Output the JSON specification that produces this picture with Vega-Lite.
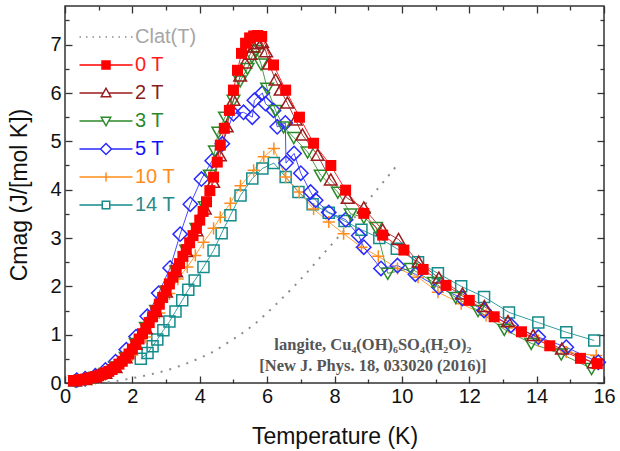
{
 "$schema": "https://vega.github.io/schema/vega-lite/v6.json",
 "width": 539, "height": 377,
 "autosize": {"type": "none"},
 "padding": {"left": 65, "top": 6, "right": 16, "bottom": 68},
 "background": "white",
 "config": {
  "view": {"stroke": "#333333", "strokeWidth": 1.5},
  "axis": {"domain": false, "grid": false, "labelFlush": false, "labelOverlap": false, "tickColor": "#333333", "tickWidth": 1.3, "labelFont": "Liberation Sans", "labelFontSize": 20, "labelColor": "#111111", "titleFont": "Liberation Sans", "titleFontSize": 23, "titleFontWeight": "normal", "titleColor": "#111111", "labelPadding": 9}
 },
 "datasets": {"d": [
  {"s":"Clat(T)","T":1.0,"C":0.0},{"s":"Clat(T)","T":1.34,"C":0.02},{"s":"Clat(T)","T":1.85,"C":0.08},{"s":"Clat(T)","T":2.3,"C":0.14},{"s":"Clat(T)","T":2.74,"C":0.21},{"s":"Clat(T)","T":3.2,"C":0.3},{"s":"Clat(T)","T":3.63,"C":0.41},{"s":"Clat(T)","T":4.02,"C":0.52},{"s":"Clat(T)","T":4.41,"C":0.65},{"s":"Clat(T)","T":4.8,"C":0.82},{"s":"Clat(T)","T":5.2,"C":1.0},{"s":"Clat(T)","T":5.6,"C":1.2},{"s":"Clat(T)","T":6.0,"C":1.45},{"s":"Clat(T)","T":6.4,"C":1.72},{"s":"Clat(T)","T":6.8,"C":2.0},{"s":"Clat(T)","T":7.2,"C":2.3},{"s":"Clat(T)","T":7.6,"C":2.62},{"s":"Clat(T)","T":8.0,"C":2.93},{"s":"Clat(T)","T":8.4,"C":3.25},{"s":"Clat(T)","T":8.8,"C":3.6},{"s":"Clat(T)","T":9.2,"C":3.95},{"s":"Clat(T)","T":9.5,"C":4.2},{"s":"Clat(T)","T":9.85,"C":4.5},

  {"s":"14 T","T":2.25,"C":0.5},{"s":"14 T","T":2.45,"C":0.62},{"s":"14 T","T":2.6,"C":0.76},{"s":"14 T","T":2.74,"C":0.9},{"s":"14 T","T":2.92,"C":1.09},{"s":"14 T","T":3.1,"C":1.27},{"s":"14 T","T":3.28,"C":1.48},{"s":"14 T","T":3.48,"C":1.71},{"s":"14 T","T":3.66,"C":1.93},{"s":"14 T","T":3.85,"C":2.12},{"s":"14 T","T":4.11,"C":2.4},{"s":"14 T","T":4.41,"C":2.74},{"s":"14 T","T":4.65,"C":3.1},{"s":"14 T","T":4.91,"C":3.47},{"s":"14 T","T":5.21,"C":3.88},{"s":"14 T","T":5.56,"C":4.23},{"s":"14 T","T":5.86,"C":4.44},{"s":"14 T","T":6.2,"C":4.55},{"s":"14 T","T":6.55,"C":4.26},{"s":"14 T","T":6.93,"C":3.95},{"s":"14 T","T":7.35,"C":3.7},{"s":"14 T","T":7.83,"C":3.52},{"s":"14 T","T":8.3,"C":3.35},{"s":"14 T","T":8.8,"C":3.17},{"s":"14 T","T":9.33,"C":3.0},{"s":"14 T","T":9.85,"C":2.78},{"s":"14 T","T":10.48,"C":2.5},{"s":"14 T","T":11.07,"C":2.27},{"s":"14 T","T":11.76,"C":2.0},{"s":"14 T","T":12.44,"C":1.78},{"s":"14 T","T":13.18,"C":1.46},{"s":"14 T","T":14.05,"C":1.25},{"s":"14 T","T":14.88,"C":1.05},{"s":"14 T","T":15.71,"C":0.88},

  {"s":"10 T","T":0.4,"C":0.04},{"s":"10 T","T":0.8,"C":0.08},{"s":"10 T","T":1.2,"C":0.18},{"s":"10 T","T":1.6,"C":0.35},{"s":"10 T","T":2.0,"C":0.58},{"s":"10 T","T":2.4,"C":0.95},{"s":"10 T","T":2.8,"C":1.45},{"s":"10 T","T":3.1,"C":1.85},{"s":"10 T","T":3.35,"C":2.15},{"s":"10 T","T":3.63,"C":2.4},{"s":"10 T","T":3.87,"C":2.64},{"s":"10 T","T":4.11,"C":2.91},{"s":"10 T","T":4.41,"C":3.2},{"s":"10 T","T":4.61,"C":3.43},{"s":"10 T","T":4.91,"C":3.72},{"s":"10 T","T":5.21,"C":4.08},{"s":"10 T","T":5.6,"C":4.4},{"s":"10 T","T":5.9,"C":4.68},{"s":"10 T","T":6.2,"C":4.85},{"s":"10 T","T":6.55,"C":4.26},{"s":"10 T","T":6.95,"C":3.95},{"s":"10 T","T":7.38,"C":3.6},{"s":"10 T","T":7.83,"C":3.33},{"s":"10 T","T":8.27,"C":3.09},{"s":"10 T","T":8.8,"C":2.81},{"s":"10 T","T":9.3,"C":2.62},{"s":"10 T","T":9.87,"C":2.37},{"s":"10 T","T":10.48,"C":2.19},{"s":"10 T","T":11.07,"C":1.88},{"s":"10 T","T":11.76,"C":1.64},{"s":"10 T","T":12.5,"C":1.4},{"s":"10 T","T":13.18,"C":1.15},{"s":"10 T","T":14.05,"C":0.88},{"s":"10 T","T":14.88,"C":0.64},{"s":"10 T","T":15.77,"C":0.57},

  {"s":"5 T","T":0.35,"C":0.06},{"s":"5 T","T":0.6,"C":0.09},{"s":"5 T","T":0.9,"C":0.15},{"s":"5 T","T":1.2,"C":0.27},{"s":"5 T","T":1.5,"C":0.44},{"s":"5 T","T":1.82,"C":0.69},{"s":"5 T","T":2.11,"C":0.96},{"s":"5 T","T":2.44,"C":1.38},{"s":"5 T","T":2.78,"C":1.86},{"s":"5 T","T":3.12,"C":2.38},{"s":"5 T","T":3.42,"C":3.08},{"s":"5 T","T":3.72,"C":3.7},{"s":"5 T","T":4.05,"C":4.22},{"s":"5 T","T":4.37,"C":4.6},{"s":"5 T","T":4.67,"C":4.95},{"s":"5 T","T":5.0,"C":5.57},{"s":"5 T","T":5.3,"C":5.6},{"s":"5 T","T":5.56,"C":5.5},{"s":"5 T","T":5.62,"C":5.85},{"s":"5 T","T":5.86,"C":6.0},{"s":"5 T","T":5.95,"C":5.78},{"s":"5 T","T":6.19,"C":5.64},{"s":"5 T","T":6.3,"C":5.3},{"s":"5 T","T":6.54,"C":5.38},{"s":"5 T","T":6.56,"C":4.55},{"s":"5 T","T":6.8,"C":4.75},{"s":"5 T","T":7.0,"C":4.34},{"s":"5 T","T":7.29,"C":3.95},{"s":"5 T","T":7.44,"C":3.78},{"s":"5 T","T":7.83,"C":3.53},{"s":"5 T","T":8.33,"C":3.38},{"s":"5 T","T":8.72,"C":3.05},{"s":"5 T","T":8.87,"C":2.81},{"s":"5 T","T":9.38,"C":2.37},{"s":"5 T","T":9.87,"C":2.43},{"s":"5 T","T":10.4,"C":2.25},{"s":"5 T","T":11.1,"C":1.98},{"s":"5 T","T":11.8,"C":1.75},{"s":"5 T","T":12.44,"C":1.5},{"s":"5 T","T":13.24,"C":1.19},{"s":"5 T","T":14.05,"C":0.95},{"s":"5 T","T":14.88,"C":0.74},{"s":"5 T","T":15.83,"C":0.43},

  {"s":"3 T","T":0.3,"C":0.04},{"s":"3 T","T":0.6,"C":0.07},{"s":"3 T","T":0.9,"C":0.12},{"s":"3 T","T":1.2,"C":0.2},{"s":"3 T","T":1.5,"C":0.33},{"s":"3 T","T":1.8,"C":0.53},{"s":"3 T","T":2.1,"C":0.82},{"s":"3 T","T":2.4,"C":1.15},{"s":"3 T","T":2.7,"C":1.5},{"s":"3 T","T":3.0,"C":1.9},{"s":"3 T","T":3.3,"C":2.32},{"s":"3 T","T":3.6,"C":2.75},{"s":"3 T","T":3.9,"C":3.2},{"s":"3 T","T":4.15,"C":3.65},{"s":"3 T","T":4.3,"C":4.3},{"s":"3 T","T":4.45,"C":4.8},{"s":"3 T","T":4.55,"C":5.19},{"s":"3 T","T":4.75,"C":5.5},{"s":"3 T","T":5.0,"C":5.85},{"s":"3 T","T":5.2,"C":6.25},{"s":"3 T","T":5.42,"C":6.51},{"s":"3 T","T":5.55,"C":6.75},{"s":"3 T","T":5.68,"C":6.88},{"s":"3 T","T":5.82,"C":6.6},{"s":"3 T","T":6.0,"C":6.1},{"s":"3 T","T":6.25,"C":5.64},{"s":"3 T","T":6.49,"C":5.3},{"s":"3 T","T":6.79,"C":5.08},{"s":"3 T","T":7.2,"C":4.78},{"s":"3 T","T":7.59,"C":4.3},{"s":"3 T","T":8.1,"C":3.95},{"s":"3 T","T":8.48,"C":3.5},{"s":"3 T","T":8.87,"C":3.43},{"s":"3 T","T":9.23,"C":3.22},{"s":"3 T","T":9.58,"C":2.27},{"s":"3 T","T":10.27,"C":2.37},{"s":"3 T","T":10.95,"C":2.08},{"s":"3 T","T":11.6,"C":1.77},{"s":"3 T","T":12.26,"C":1.5},{"s":"3 T","T":13.04,"C":1.11},{"s":"3 T","T":13.84,"C":0.82},{"s":"3 T","T":14.73,"C":0.6},{"s":"3 T","T":15.63,"C":0.3},

  {"s":"2 T","T":0.3,"C":0.04},{"s":"2 T","T":0.6,"C":0.07},{"s":"2 T","T":0.9,"C":0.12},{"s":"2 T","T":1.2,"C":0.2},{"s":"2 T","T":1.5,"C":0.32},{"s":"2 T","T":1.8,"C":0.52},{"s":"2 T","T":2.1,"C":0.8},{"s":"2 T","T":2.4,"C":1.12},{"s":"2 T","T":2.7,"C":1.48},{"s":"2 T","T":3.0,"C":1.88},{"s":"2 T","T":3.3,"C":2.3},{"s":"2 T","T":3.6,"C":2.72},{"s":"2 T","T":3.9,"C":3.15},{"s":"2 T","T":4.15,"C":3.6},{"s":"2 T","T":4.4,"C":4.15},{"s":"2 T","T":4.6,"C":4.7},{"s":"2 T","T":4.8,"C":5.3},{"s":"2 T","T":5.0,"C":5.85},{"s":"2 T","T":5.2,"C":6.35},{"s":"2 T","T":5.35,"C":6.62},{"s":"2 T","T":5.5,"C":6.8},{"s":"2 T","T":5.6,"C":6.95},{"s":"2 T","T":5.72,"C":7.02},{"s":"2 T","T":5.85,"C":7.05},{"s":"2 T","T":5.97,"C":6.85},{"s":"2 T","T":6.06,"C":6.6},{"s":"2 T","T":6.25,"C":6.27},{"s":"2 T","T":6.4,"C":6.06},{"s":"2 T","T":6.6,"C":5.79},{"s":"2 T","T":6.85,"C":5.44},{"s":"2 T","T":7.05,"C":5.13},{"s":"2 T","T":7.5,"C":4.71},{"s":"2 T","T":7.89,"C":4.2},{"s":"2 T","T":8.39,"C":3.82},{"s":"2 T","T":8.87,"C":3.62},{"s":"2 T","T":9.43,"C":3.16},{"s":"2 T","T":9.9,"C":2.97},{"s":"2 T","T":10.5,"C":2.5},{"s":"2 T","T":11.1,"C":2.17},{"s":"2 T","T":11.8,"C":1.84},{"s":"2 T","T":12.45,"C":1.58},{"s":"2 T","T":13.15,"C":1.27},{"s":"2 T","T":13.9,"C":0.98},{"s":"2 T","T":14.75,"C":0.7},{"s":"2 T","T":15.7,"C":0.42},

  {"s":"0 T","T":0.25,"C":0.05},{"s":"0 T","T":0.3,"C":0.05},{"s":"0 T","T":0.4,"C":0.06},{"s":"0 T","T":0.5,"C":0.07},{"s":"0 T","T":0.6,"C":0.08},{"s":"0 T","T":0.7,"C":0.1},{"s":"0 T","T":0.8,"C":0.11},{"s":"0 T","T":0.9,"C":0.13},{"s":"0 T","T":1.0,"C":0.15},{"s":"0 T","T":1.1,"C":0.18},{"s":"0 T","T":1.2,"C":0.21},{"s":"0 T","T":1.3,"C":0.24},{"s":"0 T","T":1.4,"C":0.28},{"s":"0 T","T":1.5,"C":0.33},{"s":"0 T","T":1.6,"C":0.39},{"s":"0 T","T":1.7,"C":0.45},{"s":"0 T","T":1.8,"C":0.52},{"s":"0 T","T":1.9,"C":0.6},{"s":"0 T","T":2.0,"C":0.7},{"s":"0 T","T":2.1,"C":0.8},{"s":"0 T","T":2.2,"C":0.91},{"s":"0 T","T":2.3,"C":1.02},{"s":"0 T","T":2.4,"C":1.13},{"s":"0 T","T":2.5,"C":1.25},{"s":"0 T","T":2.6,"C":1.37},{"s":"0 T","T":2.7,"C":1.5},{"s":"0 T","T":2.8,"C":1.63},{"s":"0 T","T":2.9,"C":1.77},{"s":"0 T","T":3.0,"C":1.91},{"s":"0 T","T":3.1,"C":2.05},{"s":"0 T","T":3.2,"C":2.19},{"s":"0 T","T":3.3,"C":2.33},{"s":"0 T","T":3.4,"C":2.47},{"s":"0 T","T":3.5,"C":2.62},{"s":"0 T","T":3.6,"C":2.76},{"s":"0 T","T":3.7,"C":2.9},{"s":"0 T","T":3.8,"C":3.05},{"s":"0 T","T":3.9,"C":3.2},{"s":"0 T","T":4.0,"C":3.37},{"s":"0 T","T":4.1,"C":3.55},{"s":"0 T","T":4.2,"C":3.75},{"s":"0 T","T":4.3,"C":3.98},{"s":"0 T","T":4.41,"C":4.26},{"s":"0 T","T":4.52,"C":4.57},{"s":"0 T","T":4.61,"C":4.92},{"s":"0 T","T":4.73,"C":5.27},{"s":"0 T","T":4.88,"C":5.64},{"s":"0 T","T":5.0,"C":6.06},{"s":"0 T","T":5.12,"C":6.47},{"s":"0 T","T":5.24,"C":6.82},{"s":"0 T","T":5.36,"C":7.03},{"s":"0 T","T":5.48,"C":7.14},{"s":"0 T","T":5.6,"C":7.18},{"s":"0 T","T":5.72,"C":7.19},{"s":"0 T","T":5.84,"C":7.17},{"s":"0 T","T":6.19,"C":6.58},{"s":"0 T","T":6.55,"C":6.06},{"s":"0 T","T":6.96,"C":5.5},{"s":"0 T","T":7.38,"C":4.96},{"s":"0 T","T":7.89,"C":4.5},{"s":"0 T","T":8.33,"C":3.99},{"s":"0 T","T":8.87,"C":3.51},{"s":"0 T","T":9.43,"C":3.06},{"s":"0 T","T":10.06,"C":2.75},{"s":"0 T","T":10.63,"C":2.35},{"s":"0 T","T":11.31,"C":2.02},{"s":"0 T","T":12.0,"C":1.71},{"s":"0 T","T":12.74,"C":1.37},{"s":"0 T","T":13.55,"C":1.06},{"s":"0 T","T":14.39,"C":0.77},{"s":"0 T","T":15.3,"C":0.51},{"s":"0 T","T":15.8,"C":0.4}
 ]},
 "data": {"name": "d"},
 "layer": [
  {
   "transform": [{"filter": "datum.s === 'Clat(T)'"}],
   "mark": {"type": "line", "strokeDash": [2, 7], "strokeWidth": 2, "color": "#8c8c8c"},
   "encoding": {
    "x": {"field": "T", "type": "quantitative", "scale": {"domain": [0, 16], "nice": false, "zero": false},
      "axis": {"orient": "bottom", "title": "Temperature (K)", "values": [0,1,2,3,4,5,6,7,8,9,10,11,12,13,14,15,16], "labelExpr": "datum.value % 2 === 0 ? format(datum.value, 'd') : ''", "labelPadding": 10, "tickSize": {"condition": {"test": "datum.value % 2 !== 0", "value": -4}, "value": -7}, "titlePadding": 16}},
    "y": {"field": "C", "type": "quantitative", "scale": {"domain": [0, 7.8], "nice": false, "zero": false},
      "axis": {"orient": "left", "title": "Cmag (J/[mol K])", "values": [0,0.5,1,1.5,2,2.5,3,3.5,4,4.5,5,5.5,6,6.5,7,7.5], "labelExpr": "datum.value % 1 === 0 ? format(datum.value, 'd') : ''", "labelPadding": 11, "tickSize": {"condition": {"test": "datum.value % 1 !== 0", "value": -4}, "value": -7}, "titlePadding": 18}}
   }
  },
  {
   "transform": [{"filter": "datum.s !== 'Clat(T)'"}],
   "mark": {"type": "line", "strokeWidth": 1, "opacity": 0.85},
   "encoding": {
    "x": {"field": "T", "type": "quantitative", "axis": null},
    "y": {"field": "C", "type": "quantitative", "axis": null},
    "color": {"field": "s", "type": "nominal", "legend": null,
      "scale": {"domain": ["Clat(T)", "0 T", "2 T", "3 T", "5 T", "10 T", "14 T"], "range": ["#8c8c8c", "#ff0000", "#9a1c1c", "#2b8a2b", "#2a2aff", "#ff8c1a", "#148c8c"]}}
   }
  },
  {
   "transform": [{"filter": "datum.s !== 'Clat(T)' && datum.s !== '0 T'"}],
   "mark": {"type": "point", "filled": false, "strokeWidth": 1.5, "size": 121, "opacity": 1},
   "encoding": {
    "x": {"field": "T", "type": "quantitative", "axis": null},
    "y": {"field": "C", "type": "quantitative", "axis": null},
    "color": {"field": "s", "type": "nominal", "legend": null},
    "shape": {"field": "s", "type": "nominal", "legend": null,
      "scale": {"domain": ["2 T", "3 T", "5 T", "10 T", "14 T"],
        "range": ["M0,-1.1L1.15,0.9L-1.15,0.9Z", "M0,1.1L1.15,-0.9L-1.15,-0.9Z", "M-1.3,0L0,-1.3L1.3,0L0,1.3Z", "M-1.1,0H1.1M0,-1.1V1.1", "M-1,-1H1V1H-1Z"]}}
   }
  },
  {
   "transform": [{"filter": "datum.s === '0 T'"}],
   "mark": {"type": "square", "size": 121, "color": "#ff0000", "opacity": 1},
   "encoding": {
    "x": {"field": "T", "type": "quantitative", "axis": null},
    "y": {"field": "C", "type": "quantitative", "axis": null}
   }
  },
  {
   "data": {"values": [{}]},
   "mark": {"type": "text", "text": ["langite, Cu₄(OH)₆SO₄(H₂O)₂", "[New J. Phys. 18, 033020 (2016)]"], "font": "Liberation Serif", "fontWeight": "bold", "fontSize": 16.5, "color": "#555555", "lineHeight": 21, "align": "center", "baseline": "middle"},
   "encoding": {
    "x": {"datum": 9.14, "type": "quantitative", "axis": null},
    "y": {"datum": 0.78, "type": "quantitative", "axis": null}
   }
  },
  {
   "transform": [{"filter": "datum.T < -100"}],
   "mark": {"type": "point", "strokeWidth": 1.5, "opacity": 1},
   "encoding": {
    "x": {"field": "T", "type": "quantitative",
      "axis": {"orient": "top", "title": null, "labels": false, "values": [0,1,2,3,4,5,6,7,8,9,10,11,12,13,14,15,16], "tickSize": {"condition": {"test": "datum.value % 2 !== 0", "value": -4}, "value": -7}}},
    "y": {"field": "C", "type": "quantitative",
      "axis": {"orient": "right", "title": null, "labels": false, "values": [0,0.5,1,1.5,2,2.5,3,3.5,4,4.5,5,5.5,6,6.5,7,7.5], "tickSize": {"condition": {"test": "datum.value % 1 !== 0", "value": -4}, "value": -7}}},
    "stroke": {"field": "s", "type": "nominal",
      "scale": {"domain": ["Clat(T)", "0 T", "2 T", "3 T", "5 T", "10 T", "14 T"], "range": ["#8c8c8c", "#ff0000", "#9a1c1c", "#2b8a2b", "#2a2aff", "#ff8c1a", "#148c8c"]},
      "legend": {"orient": "none", "legendX": 31, "legendY": 21, "title": null, "padding": 0, "labelFont": "Liberation Sans", "labelFontSize": 20, "symbolSize": 100, "symbolStrokeWidth": 1.5, "labelOffset": 19, "rowPadding": 8,
        "labelColor": {"expr": "datum.value === 'Clat(T)' ? '#a6a6a6' : datum.value === '0 T' ? '#ff1a1a' : datum.value === '2 T' ? '#8b1c1c' : datum.value === '3 T' ? '#2a8a2a' : datum.value === '5 T' ? '#1010ff' : datum.value === '10 T' ? '#ff8c1a' : '#2a8a8a'"}}},
    "fill": {"field": "s", "type": "nominal",
      "scale": {"domain": ["Clat(T)", "0 T", "2 T", "3 T", "5 T", "10 T", "14 T"], "range": ["transparent", "#ff0000", "transparent", "transparent", "transparent", "transparent", "transparent"]},
      "legend": {"orient": "none", "legendX": 31, "legendY": 21, "title": null, "padding": 0, "labelFont": "Liberation Sans", "labelFontSize": 20, "symbolSize": 100, "symbolStrokeWidth": 1.5, "labelOffset": 19, "rowPadding": 8}},
    "shape": {"field": "s", "type": "nominal",
      "scale": {"domain": ["Clat(T)", "0 T", "2 T", "3 T", "5 T", "10 T", "14 T"],
        "range": ["M-5.3,0h0.3M-4,0h0.3M-2.7,0h0.3M-1.4,0h0.3M-0.1,0h0.3M1.2,0h0.3M2.5,0h0.3M3.8,0h0.3M5,0h0.3",
                  "M-5.3,0H-0.8M0.8,0H5.3M-0.8,-0.8H0.8V0.8H-0.8Z",
                  "M-5.3,0H-0.6M0.6,0H5.3M0,-0.95L0.95,0.75H-0.95Z",
                  "M-5.3,0H-0.6M0.6,0H5.3M0,0.95L0.95,-0.75H-0.95Z",
                  "M-5.3,0H-1.1M1.1,0H5.3M-1.1,0L0,-1.1L1.1,0L0,1.1Z",
                  "M-5.3,0H5.3M0,-0.9V0.9",
                  "M-5.3,0H-0.75M0.75,0H5.3M-0.75,-0.75H0.75V0.75H-0.75Z"]},
      "legend": {"orient": "none", "legendX": 31, "legendY": 21, "title": null, "padding": 0, "labelFont": "Liberation Sans", "labelFontSize": 20, "symbolSize": 100, "symbolStrokeWidth": 1.5, "labelOffset": 19, "rowPadding": 8}}
   }
  }
 ],
 "resolve": {"scale": {"shape": "independent", "fill": "independent", "stroke": "independent"}, "axis": {"x": "independent", "y": "independent"}}
}
